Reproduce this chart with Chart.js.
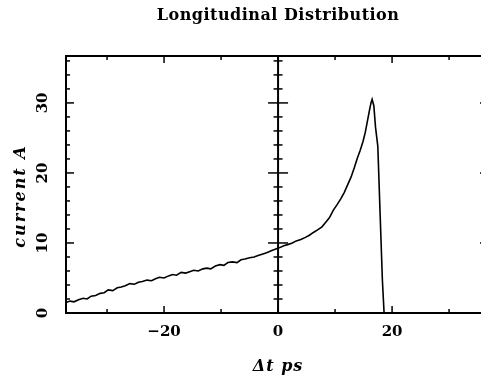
<!DOCTYPE html>
<html>
<head>
<meta charset="utf-8">
<title>Longitudinal Distribution</title>
<script src="https://cdn.jsdelivr.net/npm/chart.js@4"></script>
<style>
  html, body { margin: 0; padding: 0; background: #fff; overflow: hidden; }
  #wrap { width: 481px; height: 378px; }
</style>
</head>
<body>
<div id="wrap"><canvas id="myChart" width="481" height="378"></canvas></div>
<script>
// bunch profile: time offset (ps) and current (A)
const dTime = [
  -37.2, -36.5, -35.8, -35.0, -34.2, -33.5, -32.8, -32.0, -31.2, -30.5,
  -29.8, -29.0, -28.2, -27.5, -26.8, -26.0, -25.2, -24.5, -23.8, -23.0,
  -22.2, -21.5, -20.8, -20.0, -19.2, -18.5, -17.8, -17.0, -16.2, -15.5,
  -14.8, -14.0, -13.2, -12.5, -11.8, -11.0, -10.2, -9.5, -8.8, -8.0,
  -7.2, -6.5, -5.8, -5.0, -4.2, -3.5, -2.8, -2.0, -1.2, -0.5,
  0.2, 1.0, 1.8, 2.5, 3.2, 4.0, 4.8, 5.5, 6.2, 7.0,
  7.7, 8.4, 9.0, 9.7, 10.3, 11.0, 11.6, 12.2, 12.8, 13.4,
  13.9, 14.4, 14.9, 15.3, 15.7, 16.0, 16.3, 16.5, 16.8, 17.1,
  17.5, 17.9, 18.3, 18.6
];
const current = [
  1.5, 1.7, 1.6, 1.9, 2.1, 2.0, 2.4, 2.5, 2.8, 2.9,
  3.3, 3.2, 3.6, 3.7, 3.9, 4.2, 4.1, 4.4, 4.5, 4.7,
  4.6, 4.9, 5.1, 5.0, 5.3, 5.5, 5.4, 5.8, 5.7, 5.9,
  6.1, 6.0, 6.3, 6.4, 6.3, 6.7, 6.9, 6.8, 7.2, 7.3,
  7.2, 7.6, 7.7, 7.9, 8.0, 8.2, 8.4, 8.6, 8.9, 9.1,
  9.3, 9.6, 9.8, 10.0, 10.3, 10.5, 10.8, 11.1, 11.5, 11.9,
  12.3, 13.0, 13.6, 14.7, 15.4, 16.3, 17.2, 18.3, 19.4, 20.8,
  22.1, 23.2, 24.5, 25.8, 27.5, 28.8, 30.0, 30.5, 29.6, 26.5,
  23.8, 14.2, 4.7, 0.0
];

const xMajorTicks = [-20, 0, 20];
const xMinorTicks = [-30, -10, 10, 30];
const yMajorTicks = [0, 10, 20, 30];
const yMinorTicks = [2, 4, 6, 8, 12, 14, 16, 18, 22, 24, 26, 28, 32, 34, 36];
const xFrameMax = 37.0; // right edge of the frame lies past the canvas

const FONT = '"DejaVu Serif", serif';

// frame with inward ticks, the zero line with cross ticks, and all labels
const framePlugin = {
  id: 'frame',
  afterDatasetsDraw(chart) {
    const ctx = chart.ctx;
    const a = chart.chartArea;
    const xs = chart.scales.x;
    const ys = chart.scales.y;
    const right = xs.getPixelForValue(xFrameMax);
    ctx.save();
    ctx.strokeStyle = '#000';
    ctx.fillStyle = '#000';

    ctx.lineWidth = 2;
    ctx.strokeRect(a.left, a.top, right - a.left, a.bottom - a.top);

    ctx.lineWidth = 1.5;
    function seg(x1, y1, x2, y2) {
      ctx.beginPath();
      ctx.moveTo(x1, y1);
      ctx.lineTo(x2, y2);
      ctx.stroke();
    }
    xMajorTicks.forEach(v => {
      const px = xs.getPixelForValue(v);
      seg(px, a.bottom, px, a.bottom - 7);
      seg(px, a.top, px, a.top + 7);
    });
    xMinorTicks.forEach(v => {
      const px = xs.getPixelForValue(v);
      seg(px, a.bottom, px, a.bottom - 4);
      seg(px, a.top, px, a.top + 4);
    });
    yMajorTicks.forEach(v => {
      const py = ys.getPixelForValue(v);
      seg(a.left, py, a.left + 8, py);
      seg(right, py, right - 9, py);
    });
    yMinorTicks.forEach(v => {
      const py = ys.getPixelForValue(v);
      seg(a.left, py, a.left + 4, py);
      seg(right, py, right - 4, py);
    });

    // vertical zero line with ticks on both sides
    const x0 = xs.getPixelForValue(0);
    ctx.lineWidth = 2;
    seg(x0, a.top, x0, a.bottom);
    ctx.lineWidth = 1.5;
    yMajorTicks.forEach(v => {
      const py = ys.getPixelForValue(v);
      seg(x0 - 10, py, x0 + 10, py);
    });
    yMinorTicks.forEach(v => {
      const py = ys.getPixelForValue(v);
      seg(x0 - 4.5, py, x0 + 4.5, py);
    });

    ctx.textAlign = 'center';
    ctx.textBaseline = 'middle';

    // x tick labels
    ctx.font = 'bold 15px ' + FONT;
    xMajorTicks.forEach(v => {
      const label = v < 0 ? '\u2212' + Math.abs(v) : String(v);
      ctx.fillText(label, xs.getPixelForValue(v), 332);
    });

    // y tick labels, rotated
    yMajorTicks.forEach(v => {
      ctx.save();
      ctx.translate(43, ys.getPixelForValue(v));
      ctx.rotate(-Math.PI / 2);
      ctx.fillText(String(v), 0, 0);
      ctx.restore();
    });

    // axis titles
    ctx.font = 'bold italic 16px ' + FONT;
    ctx.letterSpacing = '1px';
    ctx.fillText('\u0394t ps', x0, 367);
    ctx.save();
    ctx.translate(21, 196);
    ctx.rotate(-Math.PI / 2);
    ctx.letterSpacing = '2px';
    ctx.fillText('current A', 0, 0);
    ctx.restore();

    // title
    ctx.font = 'bold 16px ' + FONT;
    ctx.letterSpacing = '0.5px';
    ctx.fillText('Longitudinal Distribution', x0, 16);
    ctx.restore();
  }
};

const ctx = document.getElementById('myChart').getContext('2d');
const myChart = new Chart(ctx, {
  type: 'line',
  data: {
    datasets: [{
      label: 'current',
      data: dTime.map((t, i) => ({ x: t, y: current[i] })),
      borderColor: '#000',
      borderWidth: 1.6,
      pointRadius: 0,
      tension: 0,
      fill: false
    }]
  },
  options: {
    responsive: false,
    animation: false,
    layout: {
      padding: { left: 66, top: 56, right: 0, bottom: 65 }
    },
    scales: {
      x: { type: 'linear', min: -37.2, max: 35.6, display: false },
      y: { type: 'linear', min: 0, max: 36.7, display: false }
    },
    plugins: {
      legend: { display: false },
      title: { display: false },
      tooltip: { enabled: false }
    }
  },
  plugins: [framePlugin]
});
</script>
</body>
</html>
